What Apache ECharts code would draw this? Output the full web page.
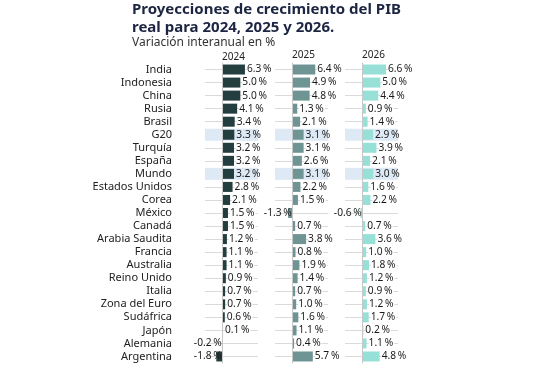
<!DOCTYPE html>
<html>
<head>
<meta charset="utf-8">
<script src="https://cdn.jsdelivr.net/npm/echarts@6/dist/echarts.min.js"></script>
<style>
html,body{margin:0;padding:0;background:#fff;}
#chart{width:551px;height:368px;}
</style>
</head>
<body>
<div id="chart"></div>
<script>
const categories = ['India','Indonesia','China','Rusia','Brasil','G20','Turquía','España','Mundo','Estados Unidos','Corea','México','Canadá','Arabia Saudita','Francia','Australia','Reino Unido','Italia','Zona del Euro','Sudáfrica','Japón','Alemania','Argentina'];
const v2024 = [6.3,5.0,5.0,4.1,3.4,3.3,3.2,3.2,3.2,2.8,2.1,1.5,1.5,1.2,1.1,1.1,0.9,0.7,0.7,0.6,0.1,-0.2,-1.8];
const v2025 = [6.4,4.9,4.8,1.3,2.1,3.1,3.1,2.6,3.1,2.2,1.5,-1.3,0.7,3.8,0.8,1.9,1.4,0.7,1.0,1.6,1.1,0.4,5.7];
const v2026 = [6.6,5.0,4.4,0.9,1.4,2.9,3.9,2.1,3.0,1.6,2.2,-0.6,0.7,3.6,1.0,1.8,1.2,0.9,1.2,1.7,0.2,1.1,4.8];
const years = ['2024','2025','2026'];
const highlighted = ['G20','Mundo'];
const xMin = -5, xMax = 10;

const FONT = 'Noto Sans';
const colors = ['#243d3f','#6e9593','#96e0d8'];
const bandColor = '#dde9f5';
const panelLefts = [205, 275, 345];
const panelWidth = 53;
const gridTop = 63, gridHeight = 300;
const allValues = [v2024, v2025, v2026];
const fmt = v => v.toFixed(1) + '\u2009%';

const grids = [], xAxes = [], yAxes = [], series = [], titles = [];

titles.push({
  text: 'Proyecciones de crecimiento del PIB\nreal para 2024, 2025 y 2026.',
  left: 132, top: 1, padding: 0,
  textStyle: {fontFamily: FONT, fontSize: 15, fontWeight: 'bold', color: '#1c2541', lineHeight: 18}
});
titles.push({
  text: 'Variación interanual en %',
  left: 132, top: 37, padding: 0,
  textStyle: {fontFamily: FONT, fontSize: 12, fontWeight: 'normal', color: '#333'}
});

years.forEach((yr, p) => {
  grids.push({left: panelLefts[p], width: panelWidth, top: gridTop, height: gridHeight, containLabel: false});
  xAxes.push({type: 'value', gridIndex: p, min: xMin, max: xMax, show: false});
  yAxes.push({
    type: 'category', gridIndex: p, data: categories, inverse: true,
    axisLine: {show: true, onZero: true, lineStyle: {color: '#c8c8c8', width: 1}},
    axisTick: {show: false},
    axisLabel: {show: p === 0, interval: 0, margin: 33, fontFamily: FONT, fontSize: 11, color: '#222'},
    splitLine: {show: false}, z: 3
  });
  yAxes.push({type: 'category', gridIndex: p, data: categories, inverse: true, show: false});
  const hiddenY = p * 2 + 1;
  const mainY = p * 2;

  const bandPos = categories.map(c => highlighted.includes(c) ? xMax : '-');
  const bandNeg = categories.map(c => highlighted.includes(c) ? xMin : '-');
  series.push({
    type: 'bar', xAxisIndex: p, yAxisIndex: hiddenY, stack: 'band' + p,
    data: bandPos, barWidth: 12, itemStyle: {color: bandColor}, silent: true, z: 1,
    markLine: {
      silent: true, symbol: ['none','none'], z: 0,
      label: {show: false},
      lineStyle: {color: '#dadada', width: 1, type: 'solid'},
      data: categories.map(c => ({yAxis: c}))
    }
  });
  series.push({
    type: 'bar', xAxisIndex: p, yAxisIndex: hiddenY, stack: 'band' + p,
    data: bandNeg, barWidth: 12, itemStyle: {color: bandColor}, silent: true, z: 1
  });

  const vals = allValues[p];
  const txt = {fontFamily: FONT, fontSize: 10.2, color: '#1a1a1a'};
  series.push({
    type: 'bar', xAxisIndex: p, yAxisIndex: mainY, barWidth: 10, z: 2,
    itemStyle: {color: colors[p]},
    data: vals,
    label: {
      show: true, position: 'right', distance: 2,
      fontFamily: FONT, fontSize: 10.2, color: '#1a1a1a',
      formatter: (d) => {
        const v = vals[d.dataIndex];
        if (v < 0) return '';
        const hl = highlighted.includes(categories[d.dataIndex]);
        return (hl ? '{t|' : '{w|') + fmt(v) + '}';
      },
      rich: {
        w: Object.assign({backgroundColor: '#fff', padding: [0, 1, 0, 0]}, txt),
        t: Object.assign({padding: [0, 1, 0, 0]}, txt)
      }
    }
  });

  const negItems = vals.map((v, i) => ({v, i})).filter(o => o.v < 0);
  series.push({
    type: 'scatter', xAxisIndex: p, yAxisIndex: mainY, z: 4,
    symbolSize: 0, silent: true,
    itemStyle: {opacity: 1, color: '#1a1a1a'},
    data: negItems.map(o => [0, categories[o.i]]),
    label: {
      show: true, position: 'left', distance: 1, opacity: 1,
      fontFamily: FONT, fontSize: 10.2, color: '#1a1a1a',
      formatter: (d) => fmt(negItems[d.dataIndex].v)
    }
  });

  titles.push({
    text: yr, left: panelLefts[p] + 17, top: p === 0 ? 52 : 50, padding: 0,
    textStyle: {fontFamily: FONT, fontSize: 10, fontWeight: 'normal', color: '#222'}
  });
});

const chart = echarts.init(document.getElementById('chart'), null, {renderer: 'canvas'});
chart.setOption({
  animation: false,
  backgroundColor: '#fff',
  title: titles,
  grid: grids,
  xAxis: xAxes,
  yAxis: yAxes,
  series: series
});
</script>
</body>
</html>
